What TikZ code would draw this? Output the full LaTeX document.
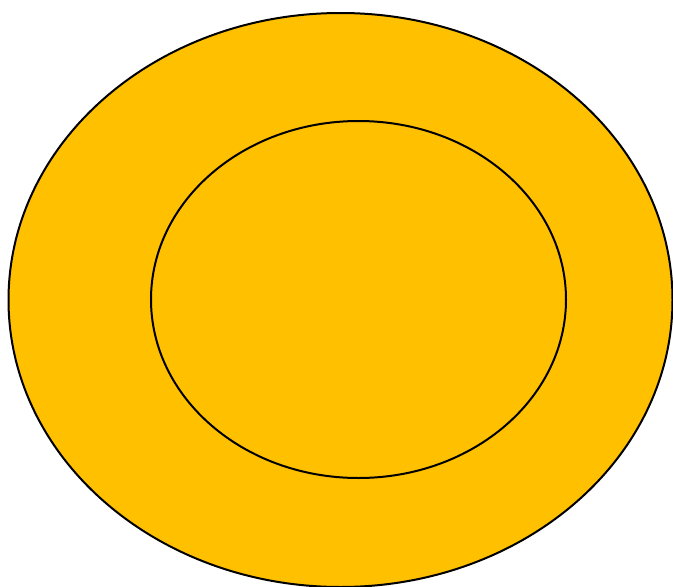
\documentclass[tikz,border=0pt]{standalone}
\definecolor{gold}{HTML}{FFC000}
\begin{document}
\begin{tikzpicture}[x=1pt,y=-1pt,
  ring/.style={draw=black,line width=2pt,fill=gold}]
\useasboundingbox (0,0) rectangle (673,587);
\clip (0,0) rectangle (673,587);
\path[ring] (340.5,300) ellipse [x radius=332, y radius=287];
\path[ring] (358.5,299.5) ellipse [x radius=207.5, y radius=178.5];
\end{tikzpicture}
\end{document}
